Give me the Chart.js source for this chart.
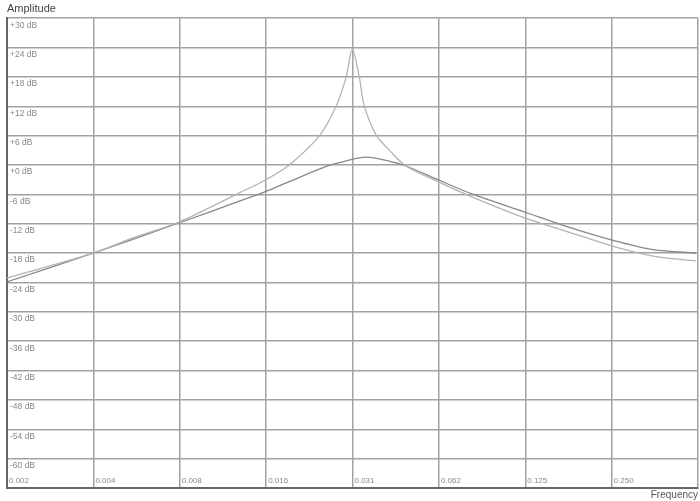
<!DOCTYPE html>
<html>
<head>
<meta charset="utf-8">
<script src="https://cdn.jsdelivr.net/npm/chart.js@4/dist/chart.umd.min.js"></script>
<style>
  body { margin: 0; background: #fff; }
  #wrap { width: 700px; height: 501px; }
</style>
</head>
<body>
<div id="wrap"><canvas id="freqchart"></canvas></div>
<script>
// frequency axis: octaves from 2^-9 to 2^-1
var xTicks = [0.001953125, 0.00390625, 0.0078125, 0.015625, 0.03125, 0.0625, 0.125, 0.25, 0.5];
var xTickLabels = ['0.002', '0.004', '0.008', '0.016', '0.031', '0.062', '0.125', '0.250', ''];
var yTicks = [30, 24, 18, 12, 6, 0, -6, -12, -18, -24, -30, -36, -42, -48, -54, -60, -66];
var yTickLabels = ['+30 dB', '+24 dB', '+18 dB', '+12 dB', '+6 dB', '+0 dB', '-6 dB', '-12 dB', '-18 dB',
                   '-24 dB', '-30 dB', '-36 dB', '-42 dB', '-48 dB', '-54 dB', '-60 dB', ''];

// narrow (resonant) response
var sharpFreq = [0.00195, 0.0039, 0.00536, 0.0078, 0.0126, 0.0156, 0.0188, 0.0239, 0.0274, 0.0297, 0.0312,
                 0.0330, 0.0343, 0.0378, 0.0419, 0.048, 0.0625, 0.0814, 0.1244, 0.177, 0.2496, 0.349, 0.4928];
var sharpDb = [-23.1, -18.0, -14.9, -11.6, -5.7, -3.0, 0.0, 5.9, 12.0, 18.0, 23.7,
               18.0, 12.2, 6.1, 3.1, -0.2, -3.5, -6.5, -10.8, -13.7, -16.5, -18.6, -19.6];

// broad response
var broadFreq = [0.00195, 0.0039, 0.0078, 0.0126, 0.0156, 0.0188, 0.0253, 0.0281, 0.0348, 0.0419, 0.048,
                 0.0625, 0.0814, 0.1244, 0.177, 0.2496, 0.349, 0.4928];
var broadDb = [-23.9, -18.0, -11.8, -7.4, -5.4, -3.4, -0.3, 0.5, 1.6, 0.8, -0.2,
               -3.1, -5.9, -9.6, -12.7, -15.3, -17.3, -18.0];

function pts(fs, ds) {
    return fs.map(function (f, i) { return { x: f, y: ds[i] }; });
}

var ctx = document.getElementById('freqchart').getContext('2d');
var myChart = new Chart(ctx, {
    type: 'line',
    data: {
        datasets: [{
            label: 'narrow',
            data: pts(sharpFreq, sharpDb),
            borderColor: '#b4b4b4',
            borderWidth: 1.3,
            pointRadius: 0,
            tension: 0.3
        }, {
            label: 'broad',
            data: pts(broadFreq, broadDb),
            borderColor: '#888888',
            borderWidth: 1.3,
            pointRadius: 0,
            tension: 0.3
        }]
    },
    options: {
        responsive: true,
        maintainAspectRatio: false,
        animation: false,
        layout: { padding: { left: 7, right: 2, top: 0, bottom: 0 } },
        plugins: {
            legend: { display: false },
            tooltip: { enabled: false },
            title: {
                display: true,
                text: 'Amplitude',
                align: 'start',
                color: '#444',
                font: { family: 'Liberation Sans', size: 11, weight: 'normal' },
                padding: { top: 2, bottom: 3 }
            }
        },
        scales: {
            x: {
                type: 'logarithmic',
                min: xTicks[0],
                max: xTicks[xTicks.length - 1],
                afterBuildTicks: function (s) {
                    s.ticks = xTicks.map(function (v) { return { value: v }; });
                },
                afterFit: function (s) { s.height = 13; },
                ticks: {
                    mirror: true,
                    align: 'start',
                    labelOffset: 2,
                    padding: 2,
                    maxRotation: 0,
                    autoSkip: false,
                    color: '#888',
                    font: { family: 'Liberation Sans', size: 8 },
                    callback: function (v, i) { return xTickLabels[i]; }
                },
                grid: { color: '#a2a2a2', lineWidth: 1.5, drawTicks: false },
                border: { display: true, color: '#666', width: 2 },
                title: {
                    display: true,
                    text: 'Frequency',
                    align: 'end',
                    color: '#555',
                    font: { family: 'Liberation Sans', size: 10 },
                    padding: 0
                }
            },
            y: {
                min: -66,
                max: 30,
                afterBuildTicks: function (s) {
                    s.ticks = yTicks.map(function (v) { return { value: v }; });
                },
                afterFit: function (s) { s.width = 0; },
                ticks: {
                    mirror: true,
                    labelOffset: 7,
                    padding: 3,
                    autoSkip: false,
                    color: '#888',
                    font: { family: 'Liberation Sans', size: 8.5 },
                    callback: function (v, i) { return yTickLabels[i]; }
                },
                grid: { color: '#a2a2a2', lineWidth: 1.5, drawTicks: false },
                border: { display: true, color: '#666', width: 2 }
            }
        }
    }
});
</script>
</body>
</html>
